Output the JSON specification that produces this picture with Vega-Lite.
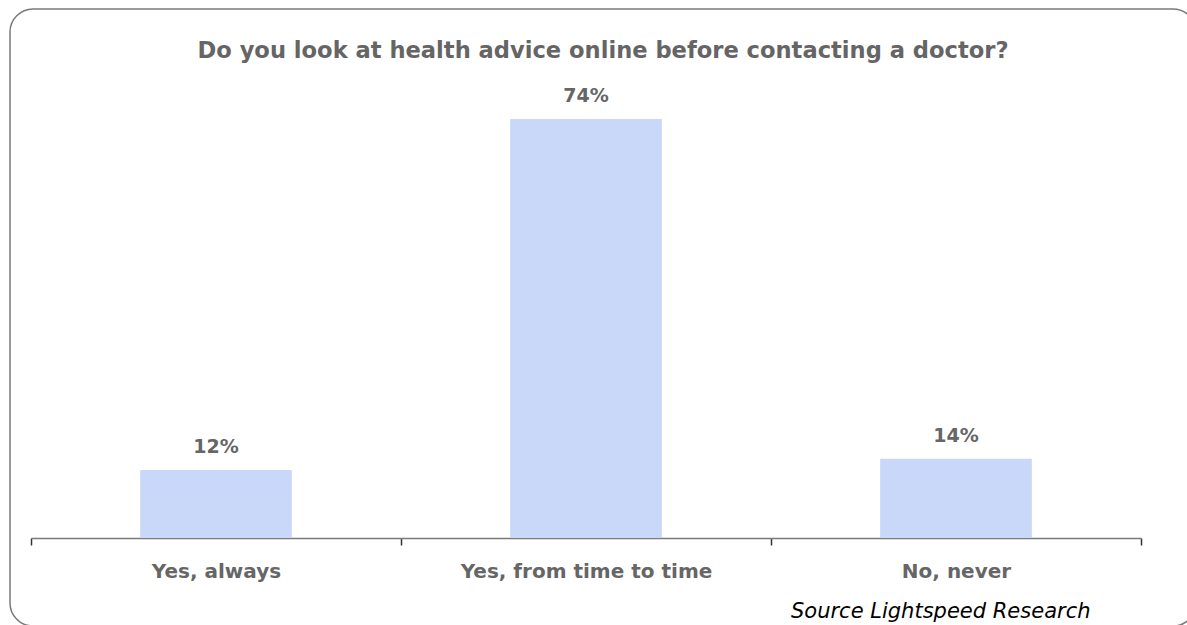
{
  "$schema": "https://vega.github.io/schema/vega-lite/v6.json",
  "width": 1186,
  "height": 617,
  "autosize": {"type": "none"},
  "padding": {"left": 10, "top": 9, "right": 0, "bottom": 0},
  "background": "white",
  "config": {
    "view": {"stroke": "#7a7a7a", "strokeWidth": 1.5, "cornerRadius": 23},
    "font": "DejaVu Sans"
  },
  "title": {
    "text": "Do you look at health advice online before contacting a doctor?",
    "font": "DejaVu Sans",
    "fontSize": 22.6,
    "fontWeight": "bold",
    "color": "#656565",
    "anchor": "middle",
    "offset": -72,
    "baseline": "alphabetic"
  },
  "data": {
    "values": [
      {"answer": "Yes, always", "share": 0.12},
      {"answer": "Yes, from time to time", "share": 0.74},
      {"answer": "No, never", "share": 0.14}
    ]
  },
  "encoding": {
    "x": {
      "field": "answer",
      "type": "nominal",
      "sort": null,
      "scale": {"range": [21, 1131], "paddingInner": 0, "paddingOuter": 0},
      "axis": {
        "title": "Source Lightspeed Research",
        "titleFont": "DejaVu Sans",
        "titleFontStyle": "italic",
        "titleFontWeight": "normal",
        "titleFontSize": 21,
        "titleColor": "#000000",
        "titleAlign": "right",
        "titleX": 1080,
        "titleY": 79,
        "titleBaseline": "alphabetic",
        "offset": -88,
        "tickBand": "extent",
        "tickSize": 7,
        "tickColor": "#333333",
        "tickWidth": 1.5,
        "domainColor": "#7a7a7a",
        "domainWidth": 1.5,
        "labelFont": "DejaVu Sans",
        "labelFontSize": 20,
        "labelFontWeight": "bold",
        "labelColor": "#666666",
        "labelPadding": 16,
        "labelLimit": 0,
        "labelAngle": 0,
        "grid": false
      }
    },
    "y": {
      "field": "share",
      "type": "quantitative",
      "scale": {"domain": [0, 0.8], "range": [529, 76]},
      "axis": null
    }
  },
  "layer": [
    {"mark": {"type": "bar", "color": "#c9d7f9", "width": {"band": 0.41}}},
    {
      "mark": {"type": "text", "dy": -17, "baseline": "alphabetic", "fontSize": 19, "fontWeight": "bold", "color": "#666666", "font": "DejaVu Sans"},
      "encoding": {"text": {"field": "share", "type": "quantitative", "format": ".0%"}}
    }
  ]
}
